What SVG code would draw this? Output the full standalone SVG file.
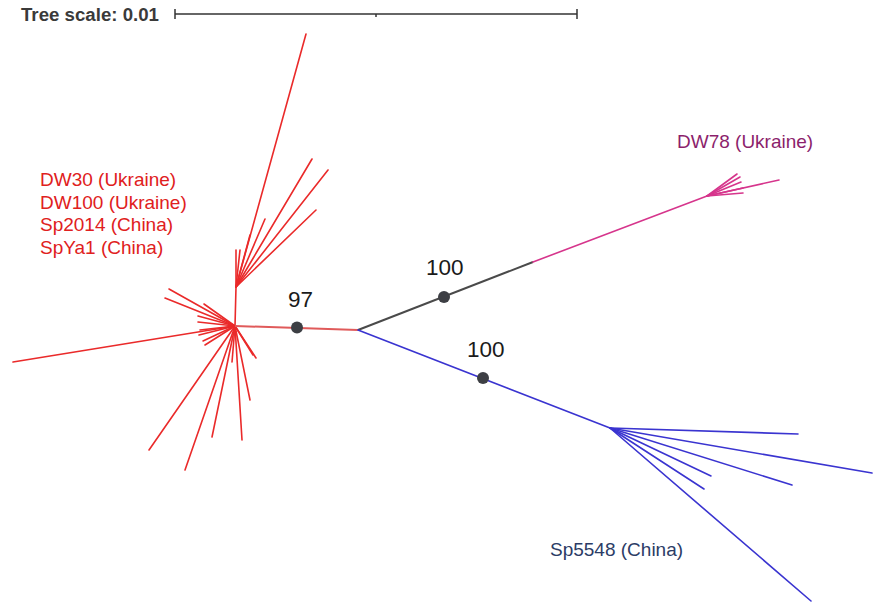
<svg xmlns="http://www.w3.org/2000/svg" width="886" height="615" viewBox="0 0 886 615">
<style>
.lbl{font-family:"Liberation Sans",Arial,sans-serif;font-size:19px}
.bs{font-family:"Liberation Sans",Arial,sans-serif;font-size:22.5px;fill:#1a1a1a}
.red line{stroke:#ea2a2a;stroke-width:1.6;stroke-linecap:round}
.blue line{stroke:#3a34d0;stroke-width:1.6;stroke-linecap:round}
.pink line{stroke:#d6358c;stroke-width:1.6;stroke-linecap:round}
.dot{fill:#3d3f44}
</style>
<rect width="886" height="615" fill="#fff"/>
<g id="scale">
<text x="21" y="21" font-family="'Liberation Sans',Arial,sans-serif" font-size="18.8" font-weight="bold" fill="#3a3a3a" textLength="138" lengthAdjust="spacingAndGlyphs">Tree scale: 0.01</text>
<g stroke="#333" stroke-width="1.5">
<line x1="175" y1="14" x2="577" y2="14"/>
<line x1="175" y1="9" x2="175" y2="19"/>
<line x1="577" y1="9" x2="577" y2="19"/>
<line x1="376" y1="14" x2="376" y2="17"/>
</g>
</g>
<g id="connectors">
<g class="red">
<line x1="235" y1="326" x2="13" y2="362"/>
<line x1="235" y1="326" x2="169" y2="289"/>
<line x1="235" y1="326" x2="165" y2="298"/>
<line x1="235" y1="326" x2="204" y2="304"/>
<line x1="235" y1="326" x2="198" y2="316"/>
<line x1="235" y1="326" x2="198" y2="322"/>
<line x1="235" y1="326" x2="200" y2="330"/>
<line x1="235" y1="326" x2="199" y2="335"/>
<line x1="235" y1="326" x2="203" y2="341"/>
<line x1="235" y1="326" x2="205" y2="345"/>
<line x1="235" y1="326" x2="149" y2="450"/>
<line x1="235" y1="326" x2="185" y2="470"/>
<line x1="235" y1="326" x2="212" y2="437"/>
<line x1="235" y1="326" x2="242" y2="440"/>
<line x1="235" y1="326" x2="250" y2="400"/>
<line x1="235" y1="326" x2="256" y2="358"/>
<line x1="235" y1="326" x2="253" y2="355"/>
<line x1="235" y1="326" x2="232" y2="362"/>
<line x1="235" y1="326" x2="236" y2="287"/>
<line x1="236" y1="287" x2="306" y2="34"/>
<line x1="236" y1="287" x2="312" y2="159"/>
<line x1="236" y1="287" x2="328" y2="170"/>
<line x1="236" y1="287" x2="316" y2="210"/>
<line x1="236" y1="287" x2="265" y2="219"/>
<line x1="236" y1="287" x2="236" y2="250"/>
<line x1="236" y1="287" x2="240" y2="250"/>
<line x1="236" y1="287" x2="250" y2="235"/>
</g>
<line x1="235" y1="326" x2="358" y2="330" stroke="#e05a5a" stroke-width="2"/>
<line x1="358" y1="330" x2="533" y2="262" stroke="#4a4a4a" stroke-width="2"/>
<g class="pink">
<line x1="533" y1="262" x2="707" y2="196" stroke-width="2"/>
<line x1="707" y1="196" x2="737" y2="174"/>
<line x1="707" y1="196" x2="740" y2="177"/>
<line x1="707" y1="196" x2="741" y2="182"/>
<line x1="707" y1="196" x2="743" y2="188"/>
<line x1="707" y1="196" x2="743" y2="193"/>
<line x1="707" y1="196" x2="779" y2="180"/>
</g>
<g class="blue">
<line x1="358" y1="330" x2="610" y2="428" stroke-width="2"/>
<line x1="610" y1="428" x2="798" y2="434"/>
<line x1="610" y1="428" x2="872" y2="473"/>
<line x1="610" y1="428" x2="792" y2="485"/>
<line x1="610" y1="428" x2="711" y2="476"/>
<line x1="610" y1="428" x2="704" y2="489"/>
<line x1="610" y1="428" x2="811" y2="601"/>
</g>
</g>
<g id="bootstrap">
<circle class="dot" cx="297" cy="327.5" r="6"/>
<circle class="dot" cx="444" cy="297" r="6"/>
<circle class="dot" cx="483" cy="378" r="6"/>
<text class="bs" x="288" y="307">97</text>
<text class="bs" x="426" y="275">100</text>
<text class="bs" x="467" y="357">100</text>
</g>
<g id="labels">
<text class="lbl" x="40" y="186" fill="#e02020">DW30 (Ukraine)</text>
<text class="lbl" x="40" y="208.5" fill="#e02020">DW100 (Ukraine)</text>
<text class="lbl" x="40" y="231" fill="#e02020">Sp2014 (China)</text>
<text class="lbl" x="40" y="253.5" fill="#e02020">SpYa1 (China)</text>
<text class="lbl" x="677" y="148" fill="#8c1f6c">DW78 (Ukraine)</text>
<text class="lbl" x="550" y="556" fill="#2c3c66">Sp5548 (China)</text>
</g>
</svg>
